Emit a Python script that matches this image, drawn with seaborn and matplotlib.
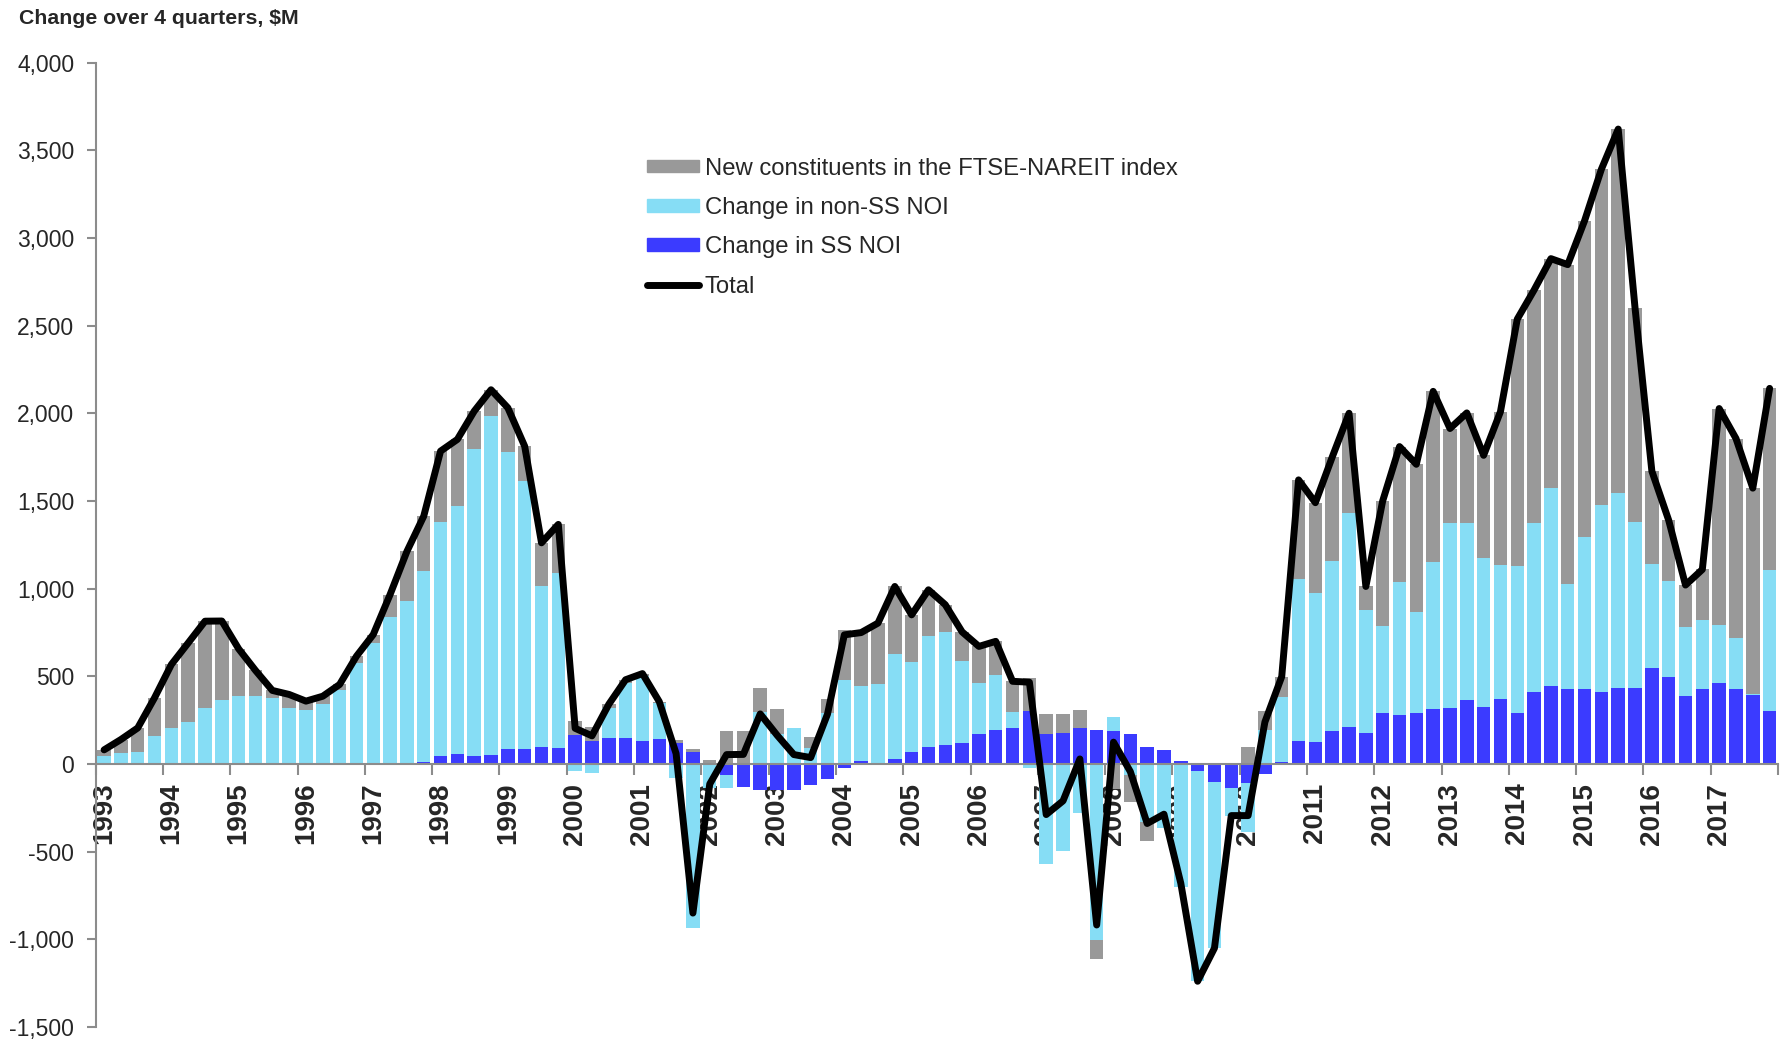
import numpy as np
import seaborn as sns
import matplotlib.pyplot as plt
from matplotlib.patches import Patch
from matplotlib.lines import Line2D
from matplotlib.ticker import FuncFormatter

# datos trimestrales 1993Q1 - 2017Q4, cambio en 4 trimestres ($M)
years = list(range(1993, 2018))

ss_noi = [0, 0, 0, 0, 0, 0, 0, 0, 0, 0,
          0, 0, 0, 0, 0, 0, 0, 0, 3, 10,
          44, 55, 44, 51, 86, 86, 99, 91, 165, 130,
          146, 146, 130, 143, 118, 67, 0, -65, -131, -150,
          -150, -150, -120, -85, -25, 19, 0, 27, 70, 99,
          105, 118, 170, 191, 204, 300, 172, 176, 204, 192,
          185, 171, 99, 80, 19, -40, -106, -135, -110, -60,
          13, 133, 122, 190, 209, 175, 293, 280, 292, 314,
          318, 365, 324, 370, 291, 408, 446, 428, 428, 408,
          434, 434, 548, 497, 390, 426, 464, 426, 395, 301]

non_ss_noi = [45, 64, 70, 158, 204, 240, 318, 363, 390, 390,
              375, 320, 305, 342, 424, 576, 690, 839, 925, 1089,
              1337, 1415, 1750, 1933, 1692, 1527, 915, 999, -42, -50,
              172, 314, 370, 203, -78, -937, -135, -72, 0, 298,
              170, 203, 89, 289, 479, 428, 454, 601, 510, 633,
              646, 470, 292, 314, 92, -24, -571, -497, -281, -1005,
              84, -63, -329, -367, -700, -1200, -945, -160, -280, 194,
              371, 922, 852, 970, 1221, 704, 496, 760, 575, 839,
              1054, 1007, 852, 767, 839, 964, 1127, 597, 865, 1066,
              1109, 948, 594, 546, 388, 395, 326, 293, 5, 803]

new_constituents = [35, 75, 135, 219, 363, 450, 496, 452, 266, 143,
                    44, 76, 53, 44, 29, 38, 48, 127, 284, 314,
                    403, 381, 218, 150, 253, 199, 247, 276, 80, 80,
                    22, 20, 15, 9, 19, 19, 20, 190, 185, 137,
                    144, 0, 67, 80, 282, 302, 349, 384, 270, 261,
                    157, 165, 208, 194, 175, 190, 110, 110, 105, -106,
                    -145, -152, -110, 0, 0, 0, 0, 0, 95, 105,
                    114, 565, 516, 590, 570, 133, 711, 770, 842, 972,
                    541, 630, 584, 872, 1407, 1331, 1309, 1823, 1805, 1918,
                    2078, 1219, 528, 347, 242, 288, 1237, 1137, 1173, 1038]

series_names = ['Change in SS NOI', 'Change in non-SS NOI',
                'New constituents in the FTSE-NAREIT index']
colores = ['#3b3bff', '#86ddf5', '#999999']

sns.set_theme(style='white')
plt.rcParams['font.family'] = ['Liberation Sans', 'DejaVu Sans']

fig = plt.figure(figsize=(17.85, 10.39), dpi=100)
ax = fig.add_axes([0.0536, 0.0117, 0.9425, 0.928])

x = np.arange(len(ss_noi))
pos_base = np.zeros(len(x))
neg_base = np.zeros(len(x))
# barras apiladas: positivos hacia arriba, negativos hacia abajo
for vals, col in zip([ss_noi, non_ss_noi, new_constituents], colores):
    v = np.array(vals, dtype=float)
    bottom = np.where(v >= 0, pos_base, neg_base)
    ax.bar(x, v, bottom=bottom, width=0.8, color=col, linewidth=0, zorder=1)
    pos_base = pos_base + np.where(v >= 0, v, 0)
    neg_base = neg_base + np.where(v < 0, v, 0)

total = np.array(ss_noi) + np.array(non_ss_noi) + np.array(new_constituents)
sns.lineplot(x=x, y=total, ax=ax, color='black', linewidth=5, legend=False,
             solid_joinstyle='round', solid_capstyle='round', zorder=3)

ax.set_xlim(-0.5, len(x) - 0.5)
ax.set_ylim(-1500, 4000)
ax.set_yticks(np.arange(-1500, 4001, 500))
ax.yaxis.set_major_formatter(FuncFormatter(lambda v, p: f'{v:,.0f}'))
ax.set_xlabel('')
ax.set_ylabel('')

for s in ['top', 'right']:
    ax.spines[s].set_visible(False)
ax.spines['left'].set_color('#8c8c8c')
ax.spines['left'].set_linewidth(1.5)
ax.spines['bottom'].set_color('#8c8c8c')
ax.spines['bottom'].set_linewidth(1.5)
ax.spines['bottom'].set_position(('data', 0))
ax.spines['bottom'].set_zorder(2)

ax.tick_params(axis='y', direction='out', length=6.5, width=1.5, color='#8c8c8c',
               labelsize=16.5, pad=9, left=True)
ax.tick_params(axis='x', which='major', length=0, pad=13.5, bottom=True,
               labelsize=20, labelrotation=90)
ax.tick_params(axis='x', which='minor', direction='out', length=8, width=1.5,
               color='#8c8c8c', bottom=True)

ax.set_xticks(np.arange(0, len(x), 4))
ax.set_xticks(np.arange(-0.5, len(x), 4), minor=True)
ax.set_xticklabels([str(a) for a in years], rotation=90, fontweight='bold', fontsize=20)

fig.text(0.0106, 0.9825, 'Change over 4 quarters, \\$M', fontweight='bold',
         fontsize=15.3, va='center', ha='left')

handles = [Patch(color=colores[2]), Patch(color=colores[1]), Patch(color=colores[0]),
           Line2D([], [], color='black', linewidth=5, solid_capstyle='round')]
labels = [series_names[2], series_names[1], series_names[0], 'Total']
ax.legend(handles, labels, loc='upper left', bbox_to_anchor=(0.3622, 0.8484),
          bbox_transform=fig.transFigure, frameon=False, fontsize=17.2,
          handlelength=2.19, handleheight=0.45, handletextpad=0.24, labelspacing=0.73,
          borderpad=0, borderaxespad=0)

plt.savefig('out.png', dpi=100)
